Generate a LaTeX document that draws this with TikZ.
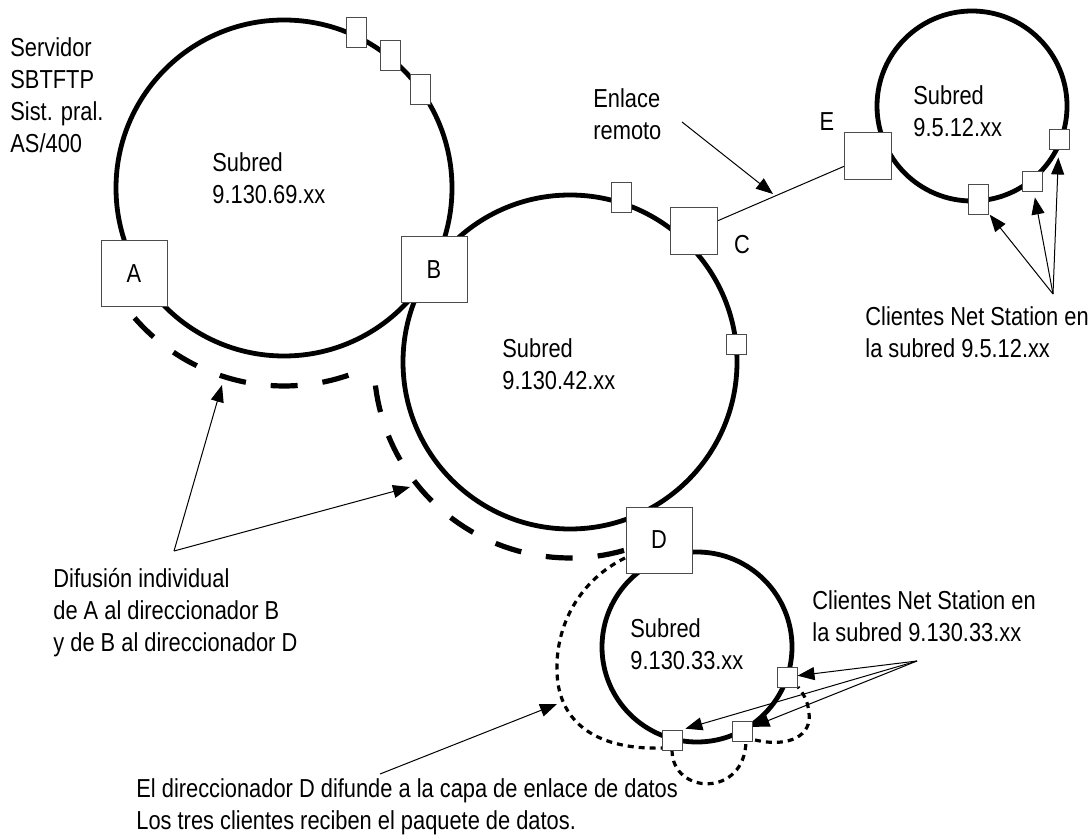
\documentclass[tikz,border=0pt]{standalone}
\usepackage{fontspec}
\setmainfont{Liberation Sans}[FakeStretch=0.84]
\usetikzlibrary{arrows.meta}

\tikzset{
  ring/.style={line width=2.4pt},
  router/.style={draw=black!70, line width=0.5pt, fill=white, inner sep=0pt, minimum size=33pt},
  bridge/.style={router, minimum size=23.5pt},
  client/.style={draw=black!70, line width=0.5pt, fill=white, inner sep=0pt, minimum width=10pt, minimum height=10pt},
  tall/.style={client, minimum height=15pt},
  unicast/.style={line width=2.6pt, dash pattern=on 13.5pt off 12.5pt},
  bcast/.style={line width=1.6pt, dash pattern=on 3pt off 2.5pt},
  pointer/.style={line width=0.5pt, -{Triangle[length=8.5pt, width=6.5pt]}},
  note/.style={align=left, anchor=north west, inner sep=0pt},
}

\begin{document}
\begin{tikzpicture}[x=0.5pt, y=-0.5pt, font=\fontsize{13}{16}\selectfont]
  \useasboundingbox (0,0) rectangle (1091,839);

  % subredes
  \draw[ring] (284,188) circle[radius=84pt];
  \draw[ring] (570,362) circle[radius=83.5pt];
  \draw[ring] (972,106) circle[radius=47.5pt];
  \draw[ring] (697,647) circle[radius=47.5pt];

  % difusion individual A -> B -> D
  \draw[unicast] plot[domain=71:141, samples=40, variable=\t] ({284+198*cos(\t)}, {188+198*sin(\t)});
  \draw[unicast] plot[domain=74:177, samples=50, variable=\t] ({570+196*cos(\t)}, {362+196*sin(\t)});

  % difusion de D a los clientes
  \draw[bcast] (625,558) .. controls (580,580) and (555,625) .. (557,673)
    .. controls (559,725) and (600,750) .. (662,748);
  \draw[bcast] (672,750) .. controls (672,795) and (745,798) .. (746,741);
  \draw[bcast] (755,740) .. controls (790,748) and (812,735) .. (809,713)
    .. controls (808,700) and (802,692) .. (798,687);

  % direccionadores
  \node[router] (A) at (134,274) {A};
  \node[router] (B) at (434,270) {B};
  \node[router] (D) at (659,540) {D};
  \node[bridge] (C) at (694,231) {};
  \node[bridge] (E) at (868,156) {};
  \node (labC) at (742,245) {C};
  \node (labE) at (827,122) {E};

  % clientes
  \node[tall] (c69a) at (356,33) {};
  \node[tall] (c69b) at (390,56) {};
  \node[tall] (c69c) at (420,90) {};
  \node[tall] (c42a) at (621,198) {};
  \node[client] (c42b) at (736,345) {};
  \node[tall] (c512a) at (978,200) {};
  \node[client] (c512b) at (1032,182) {};
  \node[client] (c512c) at (1059,140) {};
  \node[client] (c33a) at (787,677) {};
  \node[client] (c33b) at (742,731) {};
  \node[client] (c33c) at (672,740) {};

  \draw[line width=0.5pt] (C) -- (E);

  % textos
  \node[note] (srv) at (10,37) {Servidor\\SBTFTP\\Sist. pral.\\AS/400};
  \node[note] (t69) at (212,152) {Subred\\9.130.69.xx};
  \node[note] (t42) at (502,338) {Subred\\9.130.42.xx};
  \node[note] (t512) at (913,85) {Subred\\9.5.12.xx};
  \node[note] (t33) at (630,618) {Subred\\9.130.33.xx};
  \node[note] (enl) at (593,88) {Enlace\\remoto};
  \node[note] (cli512) at (865,306) {Clientes Net Station en\\la subred 9.5.12.xx};
  \node[note] (cli33) at (812,590) {Clientes Net Station en\\la subred 9.130.33.xx};
  \node[note] (dif) at (53,568) {Difusión individual\\de A al direccionador B\\y de B al direccionador D};
  \node[note] (eld) at (136,778) {El direccionador D difunde a la capa de enlace de datos\\Los tres clientes reciben el paquete de datos.};

  % flechas
  \coordinate (enlfrom) at (682,122);
  \coordinate (enlto) at (773,194);
  \coordinate (diffrom) at (174,551);
  \coordinate (difto1) at (222,385);
  \coordinate (difto2) at (410,487);
  \coordinate (eldfrom) at (380,774);
  \coordinate (eldto) at (557,704);
  \coordinate (cl512from) at (1053,294);
  \coordinate (cl33from) at (917,661);

  \draw[pointer] (enlfrom) -- (enlto);
  \draw[pointer] (diffrom) -- (difto1);
  \draw[pointer] (diffrom) -- (difto2);
  \draw[pointer] (eldfrom) -- (eldto);
  \draw[pointer, shorten >=1pt] (cl512from) -- (c512a);
  \draw[pointer, shorten >=2.5pt] (cl512from) -- (c512b);
  \draw[pointer, shorten >=3.5pt] (cl512from) -- (c512c);
  \draw[pointer] (cl33from) -- (c33a);
  \draw[pointer] (cl33from) -- (c33b);
  \draw[pointer, shorten >=1.5pt] (cl33from) -- (c33c.north east);
\end{tikzpicture}
\end{document}
